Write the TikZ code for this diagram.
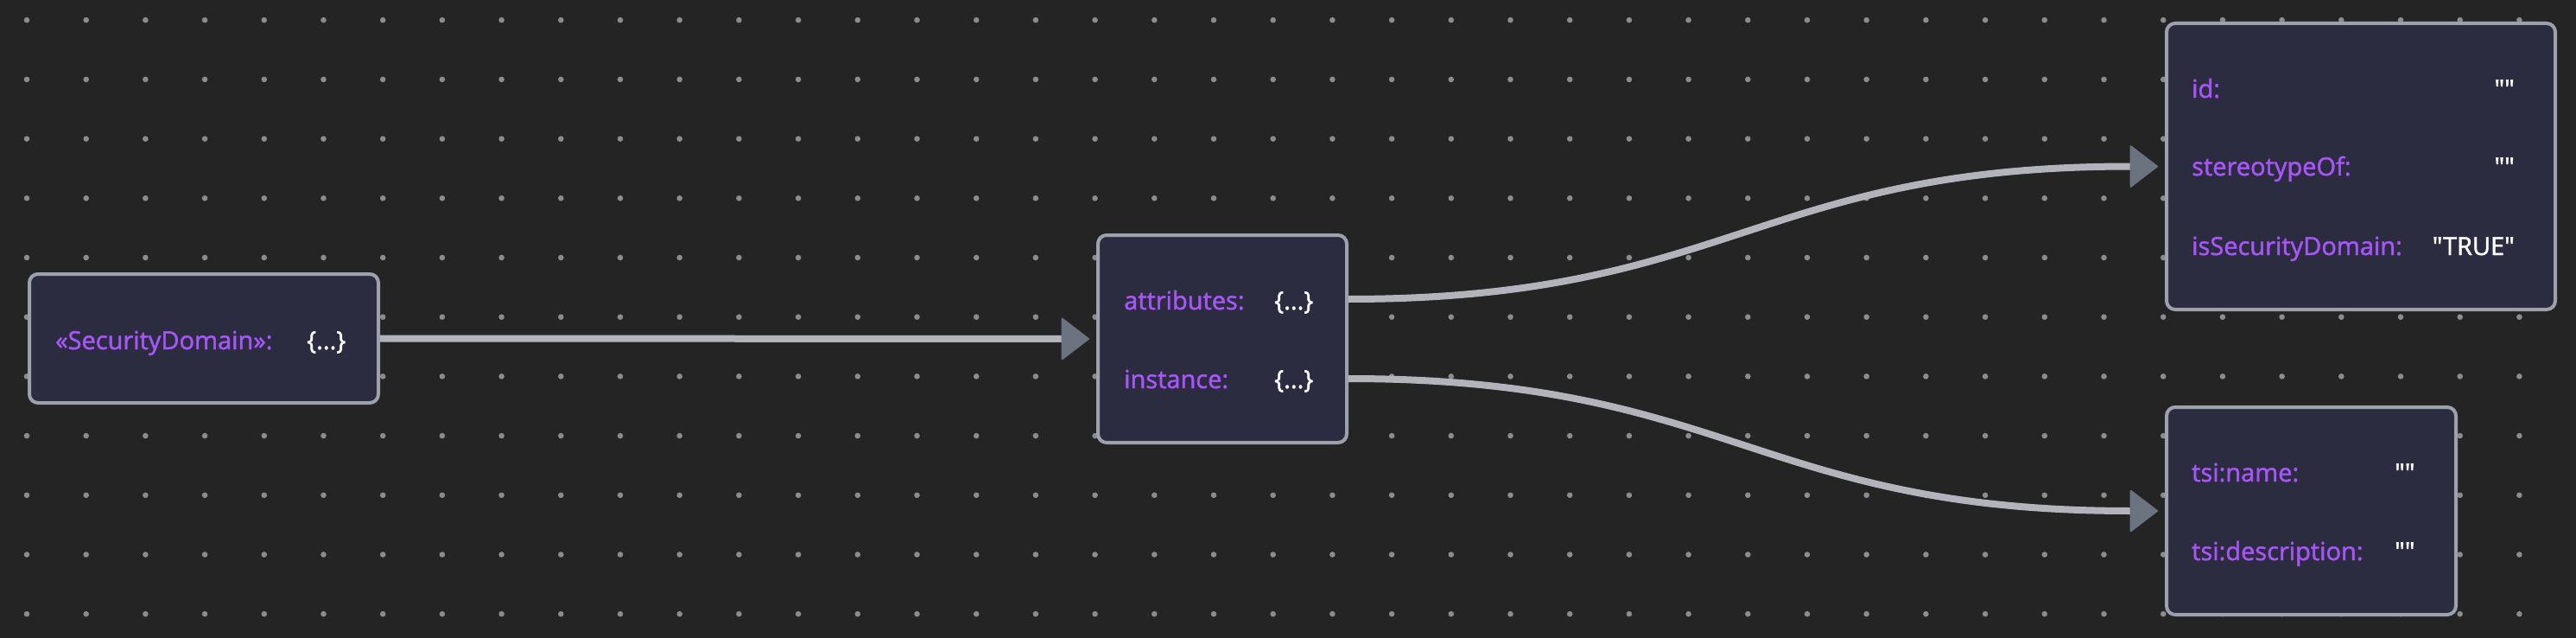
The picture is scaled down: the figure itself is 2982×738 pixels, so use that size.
\documentclass[tikz,border=0pt]{standalone}
\usepackage{fontspec}
\newfontfamily\uifont{Open Sans}[FakeBold=1.6]
\usetikzlibrary{arrows.meta}
\definecolor{bgc}{HTML}{242424}
\definecolor{boxfill}{HTML}{2B2C3F}
\definecolor{boxline}{HTML}{9CA1AC}
\definecolor{keyc}{HTML}{A855F7}
\definecolor{edgec}{HTML}{B3B3BB}
\definecolor{tipc}{HTML}{6B7280}
\definecolor{dotc}{HTML}{8C8C90}
\tikzset{
  objbox/.style={draw=boxline, fill=boxfill, line width=4pt, rounded corners=10pt, inner sep=0pt},
  keytxt/.style={text=keyc, inner sep=0pt, anchor=base west, font=\uifont\fontsize{29}{34}\selectfont},
  valtxt/.style={text=white, inner sep=0pt, font=\uifont\fontsize{29}{34}\selectfont},
  edge/.style={draw=edgec, line width=8pt, shorten >=8pt,
    -{Triangle[length=33pt,width=50pt,line width=2pt,round,color=tipc]}},
}
\begin{document}
\begin{tikzpicture}[x=1pt,y=-1pt]
\fill[bgc] (0,0) rectangle (2982,738);
\useasboundingbox (0,0) rectangle (2982,738);
\foreach \i in {0,...,42}{
  \foreach \j in {0,...,10}{
    \fill[dotc] (31+68.7*\i, 23.2+68.7*\j) circle[radius=3.3pt];
  }
}
% boxes
\node[objbox, minimum width=404pt, minimum height=149pt] (sd) at (236,391.5) {};
\node[objbox, minimum width=288pt, minimum height=240pt] (mid) at (1415,392) {};
\node[objbox, minimum width=450pt, minimum height=331pt] (tr) at (2733,192.5) {};
\node[objbox, minimum width=335pt, minimum height=240pt] (br) at (2675.5,591) {};
% texts
\node[keytxt] (sdk) at (64,404) {«SecurityDomain»:};
\node[valtxt, anchor=base west] (sdv) at (355,404) {\{...\}};
\node[keytxt] (ak) at (1301,358) {attributes:};
\node[valtxt, anchor=base west] (av) at (1475,358) {\{...\}};
\node[keytxt] (ik) at (1301,449) {instance:};
\node[valtxt, anchor=base west] (iv) at (1475,449) {\{...\}};
\node[keytxt] (idk) at (2537,113) {id:};
\node[valtxt, anchor=base east] (idv) at (2911,113) {""};
\node[keytxt] (stk) at (2537,203) {stereotypeOf:};
\node[valtxt, anchor=base east] (stv) at (2911,203) {""};
\node[keytxt] (isk) at (2537,295) {isSecurityDomain:};
\node[valtxt, anchor=base east] (isv) at (2911,295) {"TRUE"};
\node[keytxt] (nk) at (2537,557) {tsi:name:};
\node[valtxt, anchor=base west] (nv) at (2772,557) {""};
\node[keytxt] (dk) at (2537,648) {tsi:description:};
\node[valtxt, anchor=base west] (dv) at (2772,648) {""};
% connectors
\coordinate (aout) at ([yshift=46pt]mid.east);
\coordinate (iout) at ([yshift=-46pt]mid.east);
\draw[edge] (sd.east) -- (mid.west);
\draw[edge] (aout) .. controls +(440,0) and +(-470,0) .. (tr.west);
\draw[edge] (iout) .. controls +(440,0) and +(-470,0) .. (br.west);
\end{tikzpicture}
\end{document}
